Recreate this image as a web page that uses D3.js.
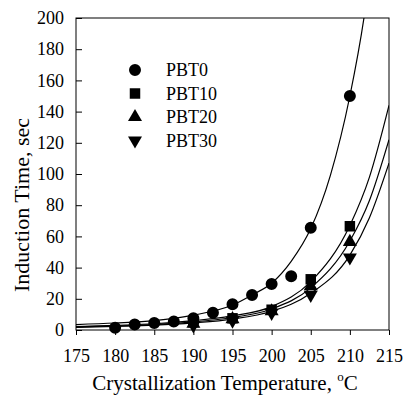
<!DOCTYPE html>
<html>
<head>
<meta charset="utf-8">
<script src="https://cdn.jsdelivr.net/npm/d3@7"></script>
<style>
  body { margin: 0; background: #fff; }
  svg text { font-family: "Liberation Serif", "Times New Roman", serif !important; fill: #000; }
</style>
</head>
<body>
<div id="viz"></div>
<script>
const width = 404;
const height = 396;
const serif = "'Liberation Serif', 'Times New Roman', serif";

// measured points
const tempsPBT0 = [180, 182.5, 185, 187.5, 190, 192.5, 195, 197.5, 200, 202.5, 205, 210];
const timesPBT0 = [1.5, 3.5, 4.5, 5.5, 7.5, 11, 16.5, 22.5, 29.5, 34.5, 65.5, 150];
const tempsOther = [190, 195, 200, 205, 210];
const timesPBT10 = [5, 7.5, 13, 32.5, 66.5];
const timesPBT20 = [4, 7, 12, 28, 56.5];
const timesPBT30 = [3, 6, 11, 22.5, 46.5];

// fitted curves
const fitT0 = [175, 180, 185, 190, 195, 197.5, 200, 202.5, 205, 207.5, 210, 211.8, 213];
const fitPBT0 = [3.5, 4.5, 6, 9.5, 16, 22.5, 30, 44, 65, 99, 150, 200, 245];
const fitT = [175, 180, 185, 190, 195, 200, 205, 210, 212.5, 215];
const fitPBT10 = [2.2, 3, 4, 6, 9, 15, 31, 67, 98, 144];
const fitPBT20 = [2, 2.6, 3.5, 5.2, 8, 13.5, 27, 57, 83, 122];
const fitPBT30 = [1.7, 2.3, 3.1, 4.6, 7, 12, 23.5, 48, 72, 107];

const xTicks = [175, 180, 185, 190, 195, 200, 205, 210, 215];
const yTicks = [0, 20, 40, 60, 80, 100, 120, 140, 160, 180, 200];

const series = [
  { name: "PBT0", temps: tempsPBT0, times: timesPBT0, symbol: d3.symbolCircle, size: 113, rot: 0 },
  { name: "PBT10", temps: tempsOther, times: timesPBT10, symbol: d3.symbolSquare, size: 110, rot: 0 },
  { name: "PBT20", temps: tempsOther, times: timesPBT20, symbol: d3.symbolTriangle, size: 85, rot: 0 },
  { name: "PBT30", temps: tempsOther, times: timesPBT30, symbol: d3.symbolTriangle, size: 85, rot: 180 }
];
const fits = [
  { t: fitT0, v: fitPBT0 },
  { t: fitT, v: fitPBT10 },
  { t: fitT, v: fitPBT20 },
  { t: fitT, v: fitPBT30 }
];

const margin = { left: 76, right: 15, top: 18, bottom: 66 };

const x = d3.scaleLinear().domain([175, 215]).range([margin.left, width - margin.right]);
const y = d3.scaleLinear().domain([0, 200]).range([height - margin.bottom, margin.top]);

const svg = d3.select("#viz")
  .append("svg")
  .attr("width", width)
  .attr("height", height);

svg.append("defs").append("clipPath")
  .attr("id", "plot-clip")
  .append("rect")
  .attr("x", x(175))
  .attr("y", y(200))
  .attr("width", x(215) - x(175))
  .attr("height", y(0) - y(200));

// fit lines
const line = d3.line()
  .x(d => x(d[0]))
  .y(d => y(d[1]))
  .curve(d3.curveMonotoneX);

svg.append("g")
  .attr("clip-path", "url(#plot-clip)")
  .selectAll("path")
  .data(fits)
  .join("path")
  .attr("d", f => line(f.t.map((t, i) => [t, f.v[i]])))
  .attr("fill", "none")
  .attr("stroke", "#000")
  .attr("stroke-width", 1.2);

// frame
svg.append("rect")
  .attr("x", x(175))
  .attr("y", y(200))
  .attr("width", x(215) - x(175))
  .attr("height", y(0) - y(200))
  .attr("fill", "none")
  .attr("stroke", "#000")
  .attr("stroke-width", 1);

// x axis, ticks outside
const xAxis = svg.append("g")
  .attr("transform", `translate(0,${y(0)})`)
  .call(d3.axisBottom(x).tickValues(xTicks).tickSize(5).tickPadding(14).tickFormat(d3.format("d")));
xAxis.attr("font-family", null);
xAxis.select(".domain").remove();
xAxis.selectAll("text").attr("font-size", 18).style("font-family", serif);

// y axis, ticks inside
const yAxis = svg.append("g")
  .attr("transform", `translate(${x(175)},0)`)
  .call(d3.axisLeft(y).tickValues(yTicks).tickSize(-6).tickPadding(12).tickFormat(d3.format("d")));
yAxis.attr("font-family", null);
yAxis.select(".domain").remove();
yAxis.selectAll("text").attr("font-size", 18).style("font-family", serif);

// markers
series.forEach(s => {
  svg.append("g")
    .selectAll("path")
    .data(s.temps.map((t, i) => [t, s.times[i]]))
    .join("path")
    .attr("d", d3.symbol().type(s.symbol).size(s.size))
    .attr("transform", d => `translate(${x(d[0])},${y(d[1])}) rotate(${s.rot})`)
    .attr("fill", "#000");
});

// legend
const legend = svg.append("g");
series.forEach((s, i) => {
  const ly = 70 + i * 23.5;
  legend.append("path")
    .attr("d", d3.symbol().type(s.symbol).size(s.size))
    .attr("transform", `translate(135,${ly}) rotate(${s.rot})`)
    .attr("fill", "#000");
  legend.append("text")
    .attr("x", 166)
    .attr("y", ly + 6)
    .attr("font-size", 18)
    .style("font-family", serif)
    .text(s.name);
});

// axis titles
const xTitle = svg.append("text")
  .attr("x", 225)
  .attr("y", 390)
  .attr("text-anchor", "middle")
  .attr("font-size", 21)
  .style("font-family", serif);
xTitle.append("tspan").text("Crystallization Temperature, ");
xTitle.append("tspan").attr("font-size", 13).attr("dy", -9).text("o");
xTitle.append("tspan").attr("dy", 9).text("C");

svg.append("text")
  .attr("transform", `translate(29,205) rotate(-90)`)
  .attr("text-anchor", "middle")
  .attr("font-size", 22)
  .style("font-family", serif)
  .text("Induction Time, sec");
</script>
</body>
</html>
